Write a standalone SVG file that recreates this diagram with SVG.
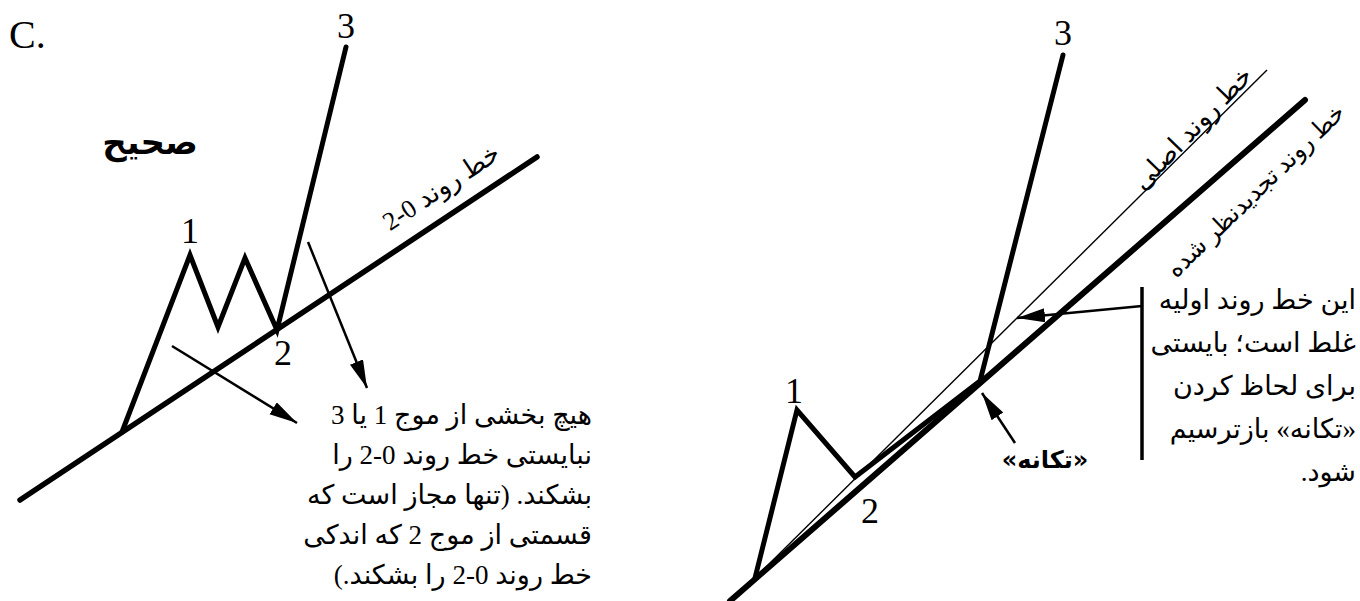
<svg xmlns="http://www.w3.org/2000/svg" width="1360" height="601" viewBox="0 0 1360 601">
<style>
.bg{fill:#fff}
.wave{fill:none;stroke:#000;stroke-width:5;stroke-linejoin:miter;stroke-linecap:round}
.trend{fill:none;stroke:#000;stroke-width:5.5;stroke-linecap:round}
.thin{fill:none;stroke:#000;stroke-width:1.4}
.arr{fill:none;stroke:#000;stroke-width:2.5;marker-end:url(#ah)}
.bar{fill:none;stroke:#000;stroke-width:3.5}
.num{font-family:"Liberation Serif",serif;font-size:36px;fill:#000;text-anchor:middle}
.fa{font-family:"Liberation Serif","DejaVu Sans",sans-serif;font-size:27px;fill:#000}
.lbl{font-family:"Liberation Serif","DejaVu Sans",sans-serif;font-size:26px;fill:#000;text-anchor:middle}
.bold{font-family:"DejaVu Sans",sans-serif;font-weight:bold;fill:#000;text-anchor:middle}
</style>
<defs>
<marker id="ah" markerUnits="userSpaceOnUse" markerWidth="30" markerHeight="16" refX="28" refY="7" orient="auto">
<path d="M0,0 L28,7 L0,14 Z" fill="#000"/>
</marker>
</defs>
<rect class="bg" x="0" y="0" width="1360" height="601"/>

<g id="title">
<text x="9" y="48" style="font-family:'Liberation Serif',serif;font-size:40px">C.</text>
</g>

<g id="left-panel">
<g id="left-trendline"><line class="trend" x1="20" y1="500" x2="537" y2="157"/></g>
<g id="left-wave"><polyline class="wave" points="122,432 190,255 218,327 245,258 277,330 346,47"/></g>
<g id="left-labels">
<text class="num" x="190" y="243">1</text>
<text class="num" x="283" y="365">2</text>
<text class="num" x="346" y="38">3</text>
<text class="bold" x="150" y="154" style="font-size:34px" direction="rtl">صحیح</text>
<text class="lbl" transform="translate(441,187) rotate(-33.5)" x="0" y="9" direction="rtl">خط روند 0-2</text>
</g>
<g id="left-note">
<text class="fa" direction="rtl" x="592" y="424">هیچ بخشی از موج 1 یا 3</text>
<text class="fa" direction="rtl" x="592" y="464">نبایستی خط روند 0-2 را</text>
<text class="fa" direction="rtl" x="592" y="504">بشکند. (تنها مجاز است که</text>
<text class="fa" direction="rtl" x="592" y="544">قسمتی از موج 2 که اندکی</text>
<text class="fa" direction="rtl" x="592" y="584">خط روند 0-2 را بشکند.)</text>
</g>
</g>

<g id="right-panel">
<g id="orig-trendline"><line class="thin" x1="755" y1="578" x2="1267" y2="70"/></g>
<g id="revised-trendline"><line class="trend" x1="730" y1="601" x2="1305" y2="100" style="stroke-width:6"/></g>
<g id="right-wave"><polyline class="wave" points="755,578 797,410 855,477 980,381 1063,55"/></g>
<g id="right-labels">
<text class="num" x="1063" y="45">3</text>
<text class="num" x="794" y="403">1</text>
<text class="num" x="870" y="523">2</text>
<text class="lbl" transform="translate(1192,128) rotate(-46)" x="0" y="9" direction="rtl">خط روند اصلی</text>
<text class="lbl" transform="translate(1255,190) rotate(-44)" x="0" y="9" direction="rtl" style="font-size:24px">خط روند تجدیدنظر شده</text>
<text class="bold" x="1045" y="468" style="font-size:24px" direction="rtl">«تکانه»</text>
</g>
<g id="right-note">
<line class="bar" x1="1142" y1="287" x2="1142" y2="460"/>
<text class="fa" direction="rtl" x="1356" y="309">این خط روند اولیه</text>
<text class="fa" direction="rtl" x="1356" y="352">غلط است؛ بایستی</text>
<text class="fa" direction="rtl" x="1356" y="395">برای لحاظ کردن</text>
<text class="fa" direction="rtl" x="1356" y="438">«تکانه» بازترسیم</text>
<text class="fa" direction="rtl" x="1356" y="481">شود.</text>
</g>
</g>

<g id="connectors">
<line class="arr" x1="172" y1="346" x2="297" y2="423"/>
<line class="arr" x1="308" y1="242" x2="367" y2="388"/>
<line class="arr" x1="1142" y1="306" x2="1017" y2="318"/>
<line class="arr" x1="1015" y1="443" x2="982" y2="393"/>
</g>
</svg>
